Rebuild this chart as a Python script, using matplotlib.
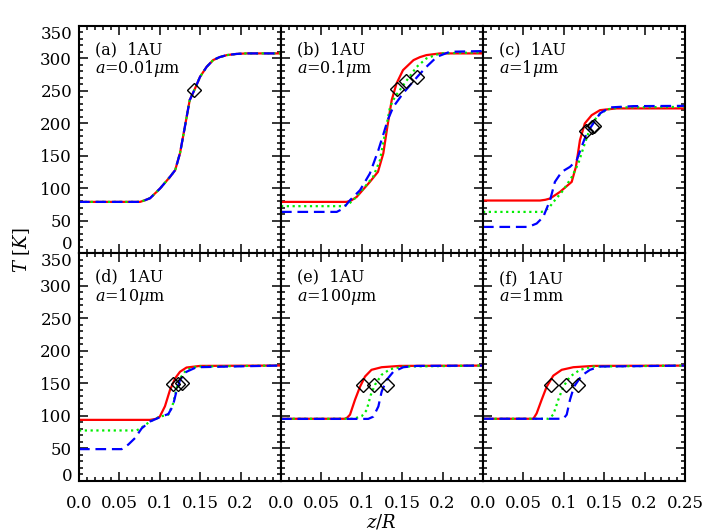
import numpy as np
import matplotlib
matplotlib.use('Agg')
import matplotlib.pyplot as plt
from matplotlib.ticker import MultipleLocator

plt.rcParams['font.family'] = 'DejaVu Serif'
plt.rcParams['mathtext.fontset'] = 'dejavuserif'

# panel labels
tags = ['(a)  1AU', '(b)  1AU', '(c)  1AU', '(d)  1AU', '(e)  1AU', '(f)  1AU']
sizes = [r'$a$=0.01$\mu$m', r'$a$=0.1$\mu$m', r'$a$=1$\mu$m',
         r'$a$=10$\mu$m', r'$a$=100$\mu$m', r'$a$=1mm']

# (a) all three curves coincide
a_z = [0.0, 0.0755, 0.0817, 0.088, 0.1003, 0.1126, 0.119, 0.125, 0.131, 0.137, 0.1427, 0.1498, 0.158, 0.166, 0.174, 0.183, 0.195, 0.2075, 0.25]
a_T = [79.3, 79.3, 81.9, 85.0, 99.9, 117.8, 128.1, 154.2, 194.7, 235.8, 251.2, 271.7, 287.1, 297.4, 302.0, 305.1, 306.9, 307.7, 307.7]
a_dz = [0.1427]
a_dT = [251]

# (b)
b_z_red = [0.0, 0.081, 0.087, 0.0937, 0.110, 0.120, 0.1266, 0.1316, 0.137, 0.143, 0.151, 0.164, 0.172, 0.180, 0.197, 0.25]
b_T_red = [79.3, 79.3, 81.5, 87.0, 110.1, 125.5, 153.8, 194.7, 235.8, 261.5, 282.0, 297.4, 302.0, 305.1, 307.7, 307.7]
b_z_grn = [0.0, 0.077, 0.083, 0.0895, 0.102, 0.114, 0.1225, 0.1287, 0.135, 0.141, 0.155, 0.168, 0.18, 0.197, 0.25]
b_T_grn = [72.7, 72.7, 75.5, 81.9, 99.9, 117.8, 143.5, 184.6, 225.5, 240.9, 265.1, 287.1, 300.0, 307.7, 309.3]
b_z_blu = [0.0, 0.069, 0.077, 0.0854, 0.0978, 0.110, 0.1205, 0.127, 0.132, 0.139, 0.151, 0.1687, 0.180, 0.193, 0.209, 0.25]
b_T_blu = [63.9, 63.9, 69.1, 81.9, 97.3, 123.0, 158.9, 184.6, 205.0, 225.5, 246.2, 271.7, 287.1, 302.5, 310.2, 311.3]
b_dz = [0.143, 0.155, 0.1687]
b_dT = [252.3, 265.1, 271.7]

# (c)
c_z_red = [0.0, 0.0705, 0.077, 0.083, 0.0953, 0.1098, 0.115, 0.120, 0.126, 0.1345, 0.1448, 0.165, 0.25]
c_T_red = [81.4, 81.4, 82.5, 84.5, 94.7, 110.1, 133.2, 174.3, 200.0, 212.7, 220.4, 223.1, 223.1]
c_z_grn = [0.0, 0.0726, 0.0808, 0.089, 0.0994, 0.110, 0.118, 0.126, 0.1324, 0.1407, 0.153, 0.1696, 0.25]
c_T_grn = [63.9, 63.9, 69.1, 81.9, 97.3, 117.8, 138.4, 169.2, 192.3, 210.1, 221.5, 224.6, 225.5]
c_z_blu = [0.0, 0.056, 0.0664, 0.0746, 0.083, 0.089, 0.0974, 0.1077, 0.116, 0.122, 0.1283, 0.1365, 0.1448, 0.157, 0.186, 0.25]
c_T_blu = [40.8, 40.8, 46.0, 56.2, 81.9, 110.1, 125.5, 133.2, 143.5, 163.9, 184.6, 200.0, 215.4, 224.6, 226.6, 227.0]
c_dz = [0.1275, 0.1345, 0.1378]
c_dT = [188.6, 194.7, 195.8]

# (d)
d_z_red = [0.0, 0.0879, 0.095, 0.1, 0.1064, 0.1126, 0.119, 0.125, 0.133, 0.1498, 0.25]
d_T_red = [94.0, 94.0, 95.5, 99.0, 115.0, 140.0, 158.0, 168.0, 174.5, 177.0, 177.6]
d_z_grn = [0.0, 0.0714, 0.0796, 0.0879, 0.1, 0.1105, 0.1167, 0.1208, 0.125, 0.133, 0.1455, 0.25]
d_T_grn = [77.7, 77.7, 84.0, 91.5, 99.0, 102.0, 120.0, 143.0, 158.0, 171.0, 176.0, 177.6]
d_z_blu = [0.0, 0.0528, 0.061, 0.0693, 0.0776, 0.0879, 0.1, 0.1105, 0.116, 0.12, 0.125, 0.133, 0.1455, 0.25]
d_T_blu = [49.0, 49.0, 56.0, 66.0, 81.0, 91.5, 98.0, 103.0, 114.6, 135.0, 155.6, 168.0, 175.0, 177.6]
d_dz = [0.116, 0.123, 0.127]
d_dT = [149.5, 149.5, 150.0]

# (e)
e_z_red = [0.0, 0.079, 0.082, 0.0854, 0.0916, 0.0978, 0.104, 0.112, 0.1246, 0.147, 0.25]
e_T_red = [95.7, 95.7, 97.5, 102.0, 125.0, 145.0, 160.7, 171.0, 175.0, 177.0, 177.5]
e_z_grn = [0.0, 0.0895, 0.0998, 0.106, 0.111, 0.1163, 0.1246, 0.135, 0.1514, 0.25]
e_T_grn = [95.7, 95.7, 99.5, 109.0, 132.0, 148.0, 163.4, 172.0, 176.0, 177.5]
e_z_blu = [0.0, 0.108, 0.1143, 0.1205, 0.1246, 0.1308, 0.139, 0.1514, 0.168, 0.25]
e_T_blu = [95.5, 95.5, 99.0, 114.6, 137.6, 155.6, 168.0, 175.0, 177.0, 177.5]
e_dz = [0.101, 0.115, 0.1308]
e_dT = [147, 147, 147]

# (f)
f_z_red = [0.0, 0.0623, 0.0664, 0.0726, 0.0788, 0.087, 0.0974, 0.1118, 0.1365, 0.25]
f_T_red = [95.7, 95.7, 104.0, 125.0, 145.0, 162.0, 171.0, 175.0, 177.0, 177.5]
f_z_grn = [0.0, 0.0808, 0.087, 0.0932, 0.0994, 0.1077, 0.12, 0.1365, 0.25]
f_T_grn = [95.7, 95.7, 102.0, 125.0, 145.0, 160.6, 171.0, 176.0, 177.5]
f_z_blu = [0.0, 0.0994, 0.1036, 0.1077, 0.1126, 0.122, 0.1324, 0.1448, 0.25]
f_T_blu = [95.7, 95.7, 102.0, 125.0, 145.0, 162.0, 171.0, 176.0, 177.5]
f_dz = [0.0838, 0.1023, 0.118]
f_dT = [147, 147, 147]

curves = [
    [(a_z, a_T), (a_z, a_T), (a_z, a_T)],
    [(b_z_red, b_T_red), (b_z_grn, b_T_grn), (b_z_blu, b_T_blu)],
    [(c_z_red, c_T_red), (c_z_grn, c_T_grn), (c_z_blu, c_T_blu)],
    [(d_z_red, d_T_red), (d_z_grn, d_T_grn), (d_z_blu, d_T_blu)],
    [(e_z_red, e_T_red), (e_z_grn, e_T_grn), (e_z_blu, e_T_blu)],
    [(f_z_red, f_T_red), (f_z_grn, f_T_grn), (f_z_blu, f_T_blu)],
]
diamonds = [(a_dz, a_dT), (b_dz, b_dT), (c_dz, c_dT), (d_dz, d_dT), (e_dz, e_dT), (f_dz, f_dT)]

styles = [dict(color='#ff0000', ls='-'),
          dict(color='#00ee00', ls=(0, (1, 1.6))),
          dict(color='#0000ff', ls=(0, (4.8, 2.6)))]

xt = [0.0, 0.05, 0.1, 0.15, 0.2, 0.25]
xt_lab = ['0.0', '0.05', '0.1', '0.15', '0.2', '0.25']
yt = [0, 50, 100, 150, 200, 250, 300, 350]

fig, axes = plt.subplots(2, 3, figsize=(7.08, 5.32), dpi=100)
plt.subplots_adjust(left=0.1116, right=0.9675, top=0.9513, bottom=0.0959, hspace=0, wspace=0)

for i, ax in enumerate(axes.flat):
    row, col = divmod(i, 3)
    for (z, T), st in zip(curves[i], styles):
        ax.plot(z, T, lw=1.6, solid_joinstyle='round', **st)
    dz, dT = diamonds[i]
    ax.plot(dz, dT, ls='none', marker='D', ms=7, mfc='none', mec='black', mew=1.0)

    ax.set_xlim(0, 0.25)
    ax.set_ylim(0, 350)
    labs = list(xt_lab)
    if col < 2:
        labs[-1] = ''
    ax.set_xticks(xt, labs)
    ax.set_yticks(yt, [str(v) for v in yt])
    ax.xaxis.set_minor_locator(MultipleLocator(0.01))
    ax.yaxis.set_minor_locator(MultipleLocator(10))
    ax.tick_params(which='both', direction='in', top=True, right=True,
                   width=1.1, labelsize=12)
    ax.tick_params(which='major', length=6.5)
    ax.tick_params(which='minor', length=3)
    ax.tick_params(axis='x', pad=10)
    ax.tick_params(axis='y', pad=5)
    if row == 0:
        ax.tick_params(labelbottom=False)
    if col > 0:
        ax.tick_params(labelleft=False)
    # keep the end labels inside the panel, as in the original
    yticks = ax.yaxis.get_major_ticks()
    yticks[0].label1.set_va('bottom' if row == 0 else 'baseline')
    yticks[-1].label1.set_va('top')
    for s in ax.spines.values():
        s.set_linewidth(1.5)

    ax.text(0.08, 0.85, tags[i] + '\n' + sizes[i], transform=ax.transAxes,
            va='center', fontsize=11.5, linespacing=1.0)

fig.text(0.539, 1 - 521.7 / 532, r'$z/R$', ha='center', va='center', fontsize=13)
fig.text(0.031, 0.530, r'$T\ [K]$', ha='center', va='center', rotation=90, fontsize=13)

plt.savefig('out.png', dpi=100)
